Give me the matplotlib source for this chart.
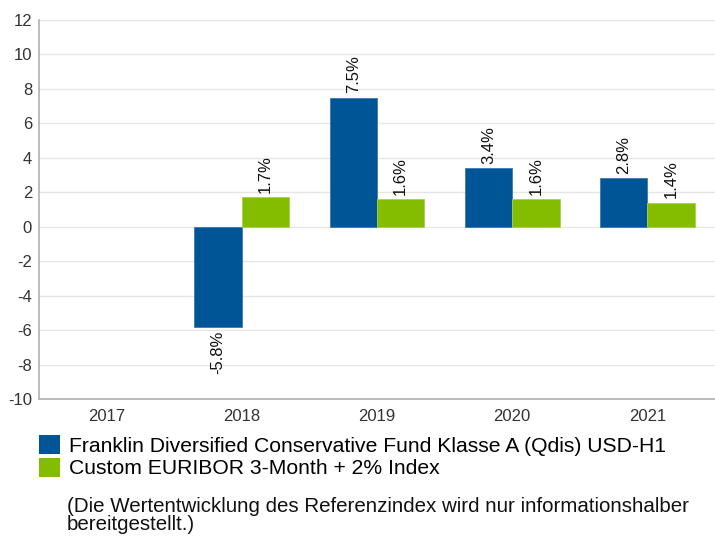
import numpy as np
import matplotlib.pyplot as plt
from matplotlib.patches import Patch

plt.rcParams['font.family'] = ['Liberation Sans', 'DejaVu Sans']
plt.rcParams['axes.unicode_minus'] = False

years = ['2017', '2018', '2019', '2020', '2021']
fund = [np.nan, -5.8, 7.5, 3.4, 2.8]
index = [np.nan, 1.7, 1.6, 1.6, 1.4]
fund_name = 'Franklin Diversified Conservative Fund Klasse A (Qdis) USD-H1'
index_name = 'Custom EURIBOR 3-Month + 2% Index'
note = ['(Die Wertentwicklung des Referenzindex wird nur informationshalber',
        'bereitgestellt.)']

blue = '#005596'
green = '#84bd00'

fig = plt.figure(figsize=(7.15, 5.38), dpi=100)
ax = fig.add_axes([0.0545, 0.2584, 0.9455, 0.7044])

x = np.arange(len(years))
w = 0.35
b1 = ax.bar(x - w / 2, fund, w, color=blue, edgecolor='#3b78b0', linewidth=0.6, zorder=3)
b2 = ax.bar(x + w / 2, index, w, color=green, edgecolor='#a6d24a', linewidth=0.6, zorder=3)

# value labels, rotated
for bars, vals in ((b1, fund), (b2, index)):
    for r, v in zip(bars, vals):
        if np.isnan(v):
            continue
        cx = r.get_x() + r.get_width() / 2
        off, va = (3, 'bottom') if v >= 0 else (-3, 'top')
        ax.annotate(f'{v:.1f}%', (cx, v), xytext=(0, off), textcoords='offset points',
                    rotation=90, ha='center', va=va, fontsize=12, color='#111111')

ax.set_xlim(-0.5, len(years) - 0.5)
ax.set_ylim(-10, 12)
ax.set_yticks(np.arange(-10, 13, 2))
ax.set_xticks(x)
ax.set_xticklabels(years)
ax.tick_params(length=0, labelsize=12, colors='#333333')
ax.tick_params(axis='x', pad=7)
ax.tick_params(axis='y', pad=5)
ax.grid(axis='y', color='#e6e6e6', linewidth=1, zorder=0)
for s in ('top', 'right'):
    ax.spines[s].set_visible(False)
for s in ('left', 'bottom'):
    ax.spines[s].set_color('#b0b0b0')
    ax.spines[s].set_linewidth(1.2)

handles = [Patch(facecolor=blue, label=fund_name), Patch(facecolor=green, label=index_name)]
fig.legend(handles=handles, loc='upper left', bbox_to_anchor=(0.0545, 1 - 435 / 538),
           frameon=False, fontsize=15.2, handlelength=1.0, handleheight=1.0,
           handletextpad=0.4, labelspacing=0.1, borderaxespad=0, borderpad=0)

# footnote: one text block, anchored at the last line's baseline
fig.text(67 / 715, 1 - 530 / 538, '\n'.join(note), fontsize=14.8, color='#111111',
         va='baseline', ha='left', linespacing=0.92)

fig.savefig('out.png', dpi=100)
